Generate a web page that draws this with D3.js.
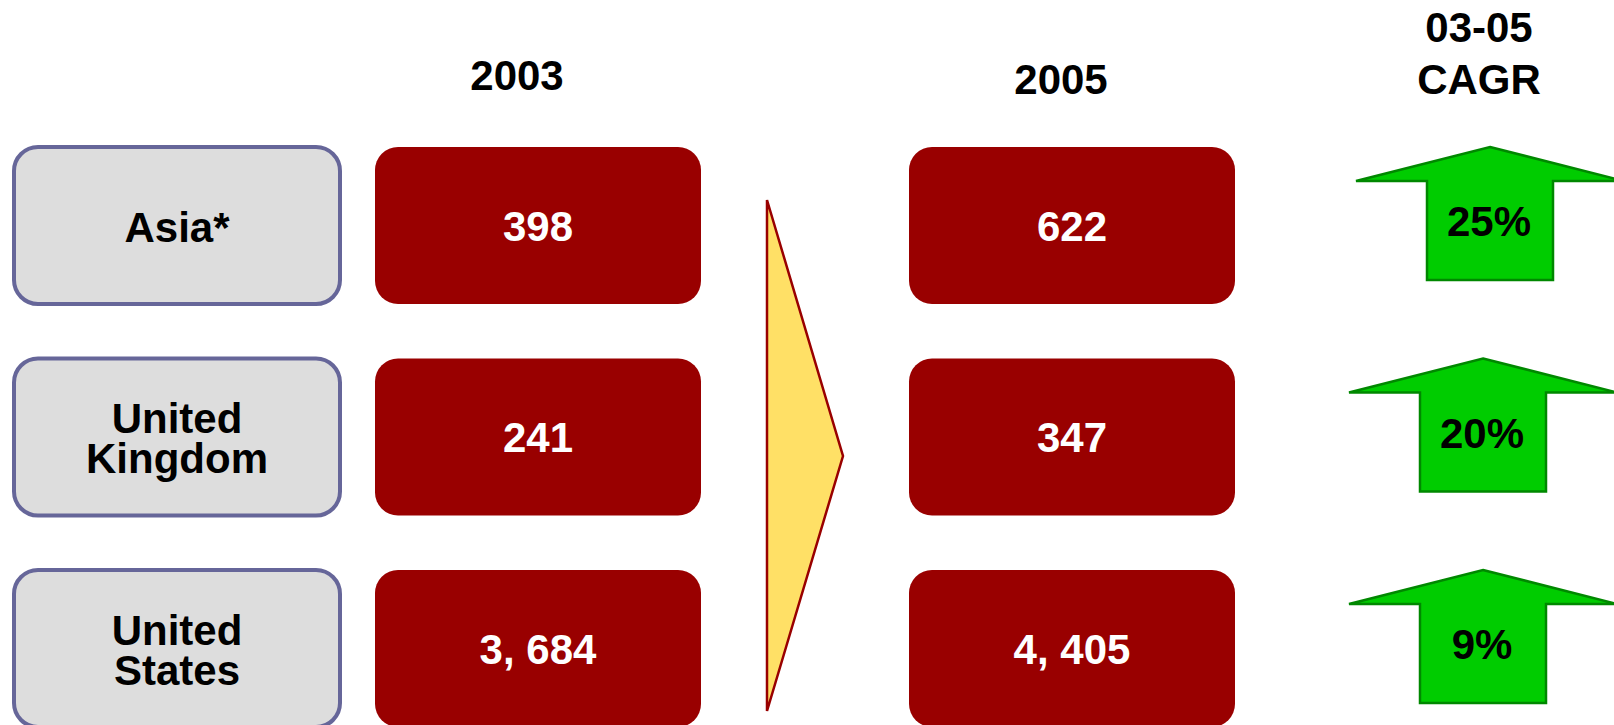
<!DOCTYPE html>
<html>
<head>
<meta charset="utf-8">
<script src="https://cdn.jsdelivr.net/npm/d3@7"></script>
<style>
  html, body { margin: 0; padding: 0; background: #ffffff; }
  svg { display: block; }
  text { font-family: "Liberation Sans", Arial, Helvetica, sans-serif; font-weight: bold; }
</style>
</head>
<body>
<svg id="chart" width="1614" height="725"></svg>
<script>
// ---- data ----
const regions = ["Asia*", "United Kingdom", "United States"];
const regionLines = [["Asia*"], ["United", "Kingdom"], ["United", "States"]];
const values2003 = [398, 241, 3684];
const values2005 = [622, 347, 4405];
const cagr = ["25%", "20%", "9%"];
const headers = ["2003", "2005"];
const cagrHeader = ["03-05", "CAGR"];

// ---- layout ----
const svg = d3.select("#chart");

const y = d3.scaleBand().domain(regions).range([147, 727]).paddingInner(0.2577).paddingOuter(0);
const bh = y.bandwidth();

const col = {
  label: [14, 340],
  v03: [375, 701],
  v05: [909, 1235]
};

const fmt = v => d3.format(",")(v).replace(/,/g, ", ");
const FS = 42;

// headers
svg.append("text").attr("x", 517).attr("y", 90).attr("text-anchor", "middle")
  .attr("font-size", FS).attr("fill", "#000").text(headers[0]);
svg.append("text").attr("x", 1061).attr("y", 94).attr("text-anchor", "middle")
  .attr("font-size", FS).attr("fill", "#000").text(headers[1]);
const ch = svg.append("text").attr("text-anchor", "middle")
  .attr("font-size", FS).attr("fill", "#000");
ch.append("tspan").attr("x", 1479).attr("y", 42).text(cagrHeader[0]);
ch.append("tspan").attr("x", 1479).attr("y", 94).text(cagrHeader[1]);

// label boxes
const rows = svg.selectAll("g.row").data(regions).join("g").attr("class", "row");

rows.append("rect")
  .attr("x", col.label[0]).attr("y", d => y(d))
  .attr("width", col.label[1] - col.label[0]).attr("height", bh)
  .attr("rx", 24).attr("ry", 24)
  .attr("fill", "#DDDDDD").attr("stroke", "#666699").attr("stroke-width", 4);

rows.each(function(d, i) {
  const g = d3.select(this);
  const lines = regionLines[i];
  const cy = y(d) + bh / 2 + 1;
  const lh = 40;
  const t = g.append("text")
    .attr("text-anchor", "middle")
    .attr("font-size", FS).attr("fill", "#000");
  lines.forEach((ln, j) => {
    t.append("tspan")
      .attr("x", (col.label[0] + col.label[1]) / 2)
      .attr("y", cy + (j - (lines.length - 1) / 2) * lh + 0.36 * FS)
      .text(ln);
  });
});

// value boxes
function valueBoxes(vals, c) {
  rows.append("rect")
    .attr("x", c[0]).attr("y", d => y(d))
    .attr("width", c[1] - c[0]).attr("height", bh)
    .attr("rx", 23).attr("ry", 23)
    .attr("fill", "#990000");
  rows.append("text")
    .attr("x", (c[0] + c[1]) / 2)
    .attr("y", d => y(d) + bh / 2)
    .attr("dy", "0.36em")
    .attr("text-anchor", "middle")
    .attr("font-size", FS).attr("fill", "#ffffff")
    .text((d, i) => fmt(vals[i]));
}
valueBoxes(values2003, col.v03);
valueBoxes(values2005, col.v05);

// transition triangle
svg.append("path")
  .attr("d", d3.line()([[767, 200], [843, 456], [767, 711]]) + "Z")
  .attr("fill", "#FFE066").attr("stroke", "#990000").attr("stroke-width", 2.5)
  .attr("stroke-linejoin", "miter");

// CAGR arrows
const arrowCx = [1490, 1483, 1483];
rows.each(function(d, i) {
  const g = d3.select(this);
  const top = y(d);
  const cx = arrowCx[i];
  const hw = 134, sw = 63, wingY = top + 34, bot = top + 133;
  const pts = [
    [cx, top], [cx + hw, wingY], [cx + sw, wingY], [cx + sw, bot],
    [cx - sw, bot], [cx - sw, wingY], [cx - hw, wingY]
  ];
  g.append("path")
    .attr("d", d3.line()(pts) + "Z")
    .attr("fill", "#00CC00").attr("stroke", "#008800").attr("stroke-width", 2.5)
    .attr("stroke-linejoin", "miter");
  g.append("text")
    .attr("x", cx - 1)
    .attr("y", top + 74)
    .attr("dy", "0.36em")
    .attr("text-anchor", "middle")
    .attr("font-size", FS).attr("fill", "#000")
    .text(cagr[i]);
});
</script>
</body>
</html>
